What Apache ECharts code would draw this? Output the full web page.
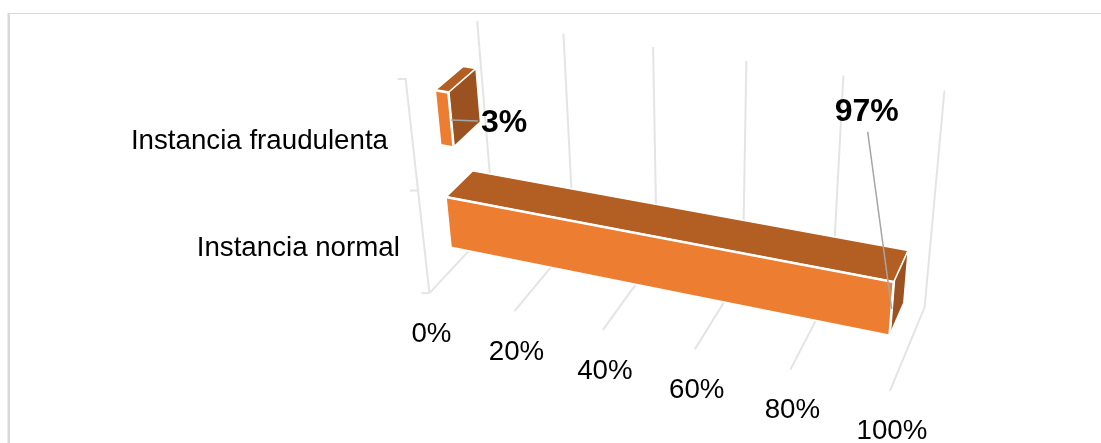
<!DOCTYPE html>
<html><head><meta charset="utf-8">
<style>html,body{margin:0;padding:0;background:#fff}#c{width:1101px;height:443px}</style>
<script src="https://cdn.jsdelivr.net/npm/echarts@6/dist/echarts.min.js"></script></head>
<body><div id="c"></div>
<script>
const categories = ['Instancia normal', 'Instancia fraudulenta'];
const shares = [97, 3];
const valueTicks = [0, 20, 40, 60, 80, 100];
const tickLabels = ['0%', '20%', '40%', '60%', '80%', '100%'];

// Perspective camera: projects (value, height, depth), each 0..1, to the page.
const CAMERA = [429.4329, 376.9606, -56.4018, 102.4721, 293.1064, 60.9779, -220.3563, -52.0213, -0.0939, -0.0804, 0.0769];
function project(u, w, d) {
  const M = CAMERA, k = 1 + M[8] * u + M[9] * w + M[10] * d;
  return [(M[0] + M[1] * u + M[2] * w + M[3] * d) / k, (M[4] + M[5] * u + M[6] * w + M[7] * d) / k];
}

// The flat grid supplies the scales; its pixels are normalised before projection.
const GRID = { left: 430, top: 81, width: 462, height: 211 };
const toU = px => (px - GRID.left) / GRID.width;
const toW = py => (GRID.top + GRID.height - py) / GRID.height;

const BAR_FRONT = 0.35, BAR_BACK = 0.75, BAR_LIFT = -0.02, BAR_RATIO = 0.5;
const LABEL_FONT = '27.7px "Liberation Sans",Arial,sans-serif';
const VALUE_FONT = 'bold 32px "Liberation Sans",Arial,sans-serif';
const GRID_COLOR = '#e4e4e4';

const face = (points, fill) => ({ type: 'polygon', shape: { points }, style: { fill, stroke: '#fff', lineWidth: 1.5 } });
const line = (points, stroke, lineWidth) => ({ type: 'polyline', shape: { points }, style: { fill: 'none', stroke, lineWidth } });
const label = (text, x, y, font, align) => ({ type: 'text', style: { text, x, y, font, fill: '#000', align: align || 'center', verticalAlign: 'middle' } });

function renderWall(params, api) {
  const u = toU(api.coord([api.value(0), 0])[0]);
  const f = project(u, 0, 0);
  return { type: 'group', children: [
    line([f, project(u, 0, 1), project(u, 1, 1)], GRID_COLOR, 2),
    label(tickLabels[params.dataIndex], f[0] + 2, f[1] + 41, LABEL_FONT)
  ] };
}

function renderCategoryEdge(params, api) {
  const i = params.dataIndex, band = api.size([0, 1])[1] / GRID.height;
  const mid = toW(api.coord([0, i])[1]);
  const a = project(0, mid, 0), hi = project(0, mid + band / 2, 0), lo = project(0, mid - band / 2, 0);
  const children = [
    line([[hi[0] - 8, hi[1]], hi, lo], GRID_COLOR, 2),
    label(categories[i], a[0] - 24, a[1] + 5, LABEL_FONT, 'right')
  ];
  if (i === 0) children.push(line([[lo[0] - 8, lo[1]], lo], GRID_COLOR, 2));
  return { type: 'group', children };
}

function renderBar(params, api) {
  const i = params.dataIndex;
  const u = toU(api.coord([api.value(0), 0])[0]);
  const band = api.size([0, 1])[1] / GRID.height;
  const mid = toW(api.coord([0, i])[1]) + BAR_LIFT;
  const lo = mid - band * BAR_RATIO / 2, hi = mid + band * BAR_RATIO / 2;
  const top = face([project(0, hi, BAR_FRONT), project(u, hi, BAR_FRONT), project(u, hi, BAR_BACK), project(0, hi, BAR_BACK)], '#b35e22');
  const side = face([project(u, hi, BAR_FRONT), project(u, hi, BAR_BACK), project(u, lo, BAR_BACK), project(u, lo, BAR_FRONT)], '#9c5220');
  const front = face([project(0, lo, BAR_FRONT), project(u, lo, BAR_FRONT), project(u, hi, BAR_FRONT), project(0, hi, BAR_FRONT)], '#ed7d31');
  const edges = line([project(0, hi, BAR_FRONT), project(u, hi, BAR_FRONT), project(u, lo, BAR_FRONT)], '#fff', 2.6);
  const anchor = project(u, mid, BAR_FRONT);
  const reach = i === 0 ? [-24, -177] : [27, 1];
  const end = [anchor[0] + reach[0], anchor[1] + reach[1]];
  const text = shares[i] + '%';
  const value = i === 0 ? label(text, end[0] - 1, end[1] - 20, VALUE_FONT) : label(text, end[0] + 3, end[1] + 2, VALUE_FONT, 'left');
  return { type: 'group', children: [top, side, front, edges, line([anchor, end], '#a6a6a6', 1.5), value] };
}

const chart = echarts.init(document.getElementById('c'), null, { renderer: 'canvas' });
chart.setOption({
  animation: false,
  graphic: [
    { type: 'line', shape: { x1: 8, y1: 13.5, x2: 1101, y2: 13.5 }, style: { stroke: '#d9d9d9', lineWidth: 1.2 } },
    { type: 'line', shape: { x1: 8.75, y1: 13, x2: 8.75, y2: 443 }, style: { stroke: '#d9d9d9', lineWidth: 2.5 } }
  ],
  grid: GRID,
  xAxis: { type: 'value', min: 0, max: 100, interval: 20, show: false },
  yAxis: { type: 'category', data: categories, show: false },
  series: [
    { type: 'custom', silent: true, z: 1, data: valueTicks.map(v => [v, 0]), renderItem: renderWall },
    { type: 'custom', silent: true, z: 1, data: categories.map((c, i) => [0, i]), renderItem: renderCategoryEdge },
    { type: 'custom', silent: true, z: 2, data: shares.map((v, i) => [v, i]), renderItem: renderBar }
  ]
});
</script></body></html>
